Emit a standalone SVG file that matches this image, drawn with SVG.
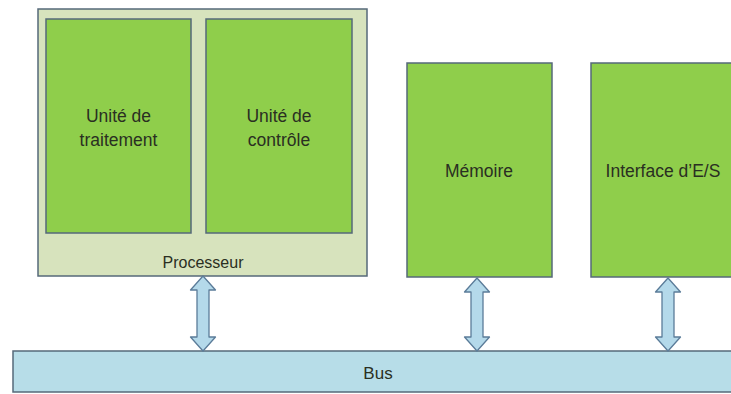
<svg xmlns="http://www.w3.org/2000/svg" width="731" height="394" viewBox="0 0 731 394">
  <style>
    .box { stroke: #56697a; stroke-width: 1.5; }
    .unit { fill: #8fce4b; }
    .cpu { fill: #d7e3bd; }
    .bus { fill: #b7dde8; }
    .link { fill: #b4d9ea; stroke: #5b7c99; stroke-width: 1.3; stroke-linejoin: round; }
    text { font-family: "Liberation Sans", Arial, sans-serif; fill: #2a2f22; text-anchor: middle; }
    .lbl { font-size: 17.5px; }
    .small { font-size: 16px; }
  </style>
  <rect width="731" height="394" fill="#ffffff"/>

  <g id="processeur">
    <rect class="box cpu" x="38" y="9" width="329" height="267"/>
    <text class="small" x="203" y="268">Processeur</text>
  </g>

  <g id="unite-traitement">
    <rect class="box unit" x="46" y="19" width="145" height="214"/>
    <text class="lbl" x="118.5" y="122">Unité de</text>
    <text class="lbl" x="118.5" y="146">traitement</text>
  </g>

  <g id="unite-controle">
    <rect class="box unit" x="206" y="19" width="146" height="214"/>
    <text class="lbl" x="279" y="122">Unité de</text>
    <text class="lbl" x="279" y="146">contrôle</text>
  </g>

  <g id="memoire">
    <rect class="box unit" x="407" y="63" width="145" height="214"/>
    <text class="lbl" x="479" y="177">Mémoire</text>
  </g>

  <g id="interface-es">
    <rect class="box unit" x="591" y="63" width="150" height="214"/>
    <text class="lbl" x="663" y="177">Interface d’E/S</text>
  </g>

  <g id="bus">
    <rect class="box bus" x="13" y="351" width="728" height="41"/>
    <text class="small" x="378" y="379" style="font-size:17px">Bus</text>
  </g>

  <g id="connecteurs">
    <path class="link" d="M203,276 L215.5,290 L209,290 L209,337 L215.5,337 L203,351 L190.5,337 L197,337 L197,290 L190.5,290 Z"/>
    <path class="link" d="M477,278 L489.5,292 L483,292 L483,337 L489.5,337 L477,351 L464.5,337 L471,337 L471,292 L464.5,292 Z"/>
    <path class="link" d="M668,278 L680.5,292 L674,292 L674,337 L680.5,337 L668,351 L655.5,337 L662,337 L662,292 L655.5,292 Z"/>
  </g>
</svg>
